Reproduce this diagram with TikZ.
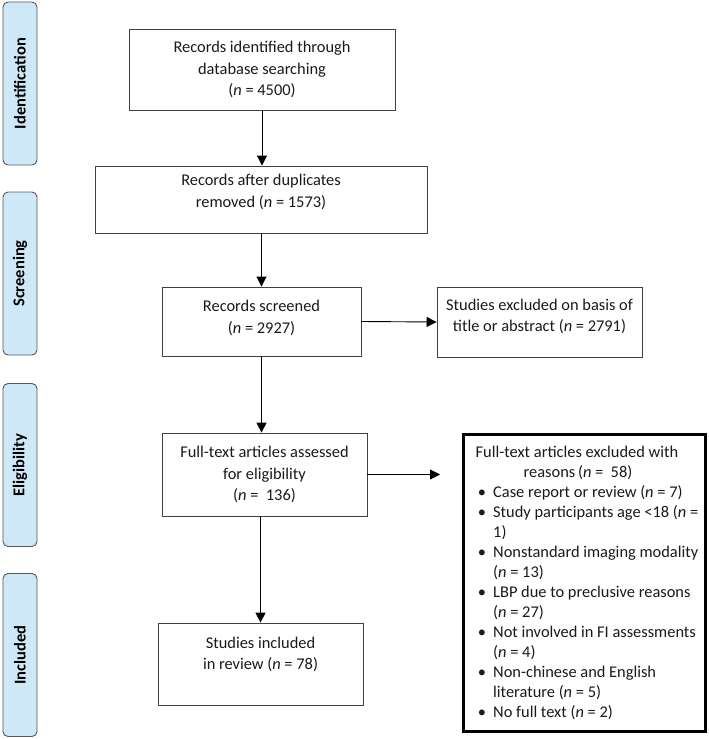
\documentclass[tikz,border=0pt]{standalone}
\usepackage{fontspec}
\setmainfont{Carlito}
\usetikzlibrary{arrows.meta}
\definecolor{phaseblue}{HTML}{CFE8F8}
\definecolor{edgegray}{HTML}{404040}
\definecolor{inkc}{HTML}{1A1A1A}
\begin{document}
\begin{tikzpicture}[x=1pt,y=-1pt,
  box/.style={draw=edgegray, line width=0.9pt, fill=white, align=center, inner sep=0pt,
    text=inkc, font=\fontsize{16.4}{21.5}\selectfont},
  phase/.style={draw=black!65, line width=0.9pt, fill=phaseblue, rounded corners=5pt,
    minimum width=163pt, minimum height=34pt, inner sep=0pt, rotate=90,
    text=black, font=\bfseries\fontsize{16.5}{18}\selectfont},
  thin/.style={draw=black, line width=0.9pt, -{Triangle[length=10pt,width=10pt]}},
  thick/.style={draw=black, line width=1.6pt, -{Triangle[length=10pt,width=10pt]}},
  ltxt/.style={inner sep=0pt, text=inkc, font=\fontsize{16.4}{20}\selectfont}
]
\useasboundingbox (0,0) rectangle (709,739);

% phase labels
\node[phase] (p1) at (20,83.5) {Identification};
\node[phase] (p2) at (20,273.5) {Screening};
\node[phase] (p3) at (20,465) {Eligibility};
\node[phase] (p4) at (20,655) {Included};

% main boxes
\node[box, minimum width=266pt, minimum height=81pt] (b1) at (262,69.5)
  {Records identified through\\database searching\\(\textit{n} = 4500)};
\node[box, minimum width=332pt, minimum height=67pt] (b2) at (261,199.5)
  {Records after duplicates\\removed (\textit{n} = 1573)\\[-4pt]\mbox{}};
\node[box, minimum width=199pt, minimum height=69pt] (b3) at (261.5,321.5)
  {Records screened\\(\textit{n} = 2927)\\[-12pt]\mbox{}};
\node[box, minimum width=205pt, minimum height=70pt] (b4) at (539.5,322)
  {Studies excluded on basis of\\title or abstract (\textit{n} = 2791)\\[-8pt]\mbox{}};
\node[box, minimum width=205pt, minimum height=83pt] (b5) at (264.5,474.5)
  {Full-text articles assessed\\for eligibility\\(\textit{n} =\ \ 136)};
\node[box, minimum width=205pt, minimum height=82pt] (b7) at (260.5,664)
  {Studies included\\in review (\textit{n} = 78)\\\mbox{}};

% exclusion box
\node[draw=black, line width=3.6pt, fill=white, minimum width=242pt, minimum height=297pt,
  inner sep=0pt] (b6) at (584.5,583) {};
\node[ltxt, anchor=base] (h1) at (577,457) {Full-text articles excluded with};
\node[ltxt, anchor=base] (h2) at (578,477) {reasons\,(\textit{n} =\ \ 58)};

\node[ltxt, anchor=base] (k1) at (482,497) {\textbullet};
\node[ltxt, anchor=base west] (t1) at (493,497) {Case report or review (\textit{n} = 7)};
\node[ltxt, anchor=base] (k2) at (482,517) {\textbullet};
\node[ltxt, anchor=base west] (t2) at (493,517) {Study participants age <18 (\textit{n} =};
\node[ltxt, anchor=base west] (t3) at (493,537) {1)};
\node[ltxt, anchor=base] (k4) at (482,557) {\textbullet};
\node[ltxt, anchor=base west] (t4) at (493,557) {Nonstandard imaging modality};
\node[ltxt, anchor=base west] (t5) at (493,577) {(\textit{n} = 13)};
\node[ltxt, anchor=base] (k6) at (482,597) {\textbullet};
\node[ltxt, anchor=base west] (t6) at (493,597) {LBP due to preclusive reasons};
\node[ltxt, anchor=base west] (t7) at (493,617) {(\textit{n} = 27)};
\node[ltxt, anchor=base] (k8) at (482,637) {\textbullet};
\node[ltxt, anchor=base west] (t8) at (493,637) {Not involved in FI assessments};
\node[ltxt, anchor=base west] (t9) at (493,657) {(\textit{n} = 4)};
\node[ltxt, anchor=base] (k10) at (482,677) {\textbullet};
\node[ltxt, anchor=base west] (t10) at (493,677) {Non-chinese and English};
\node[ltxt, anchor=base west] (t11) at (493,697) {literature (\textit{n} = 5)};
\node[ltxt, anchor=base] (k12) at (482,717) {\textbullet};
\node[ltxt, anchor=base west] (t12) at (493,717) {No full text (\textit{n} = 2)};

% connectors
\coordinate (e5) at (440,473);
\draw[thin] (b1.south) -- (b1.south |- b2.north);
\draw[thin] (b2.south -| b3.north) -- (b3.north);
\draw[thin] (b3.east) -- (b4.west);
\draw[thick] (b3.south) -- (b3.south |- b5.north);
\draw[thin] (b5.east) -- (b5.east -| e5);
\draw[thick] (b5.south -| b7.north) -- (b7.north);
\end{tikzpicture}
\end{document}
